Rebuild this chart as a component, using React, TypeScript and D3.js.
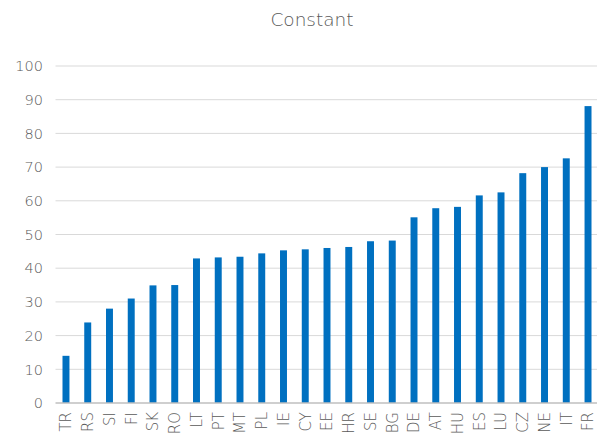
import React from "react";
import * as d3 from "d3";

const categories = ["TR","RS","SI","FI","SK","RO","LT","PT","MT","PL","IE","CY","EE","HR","SE","BG","DE","AT","HU","ES","LU","CZ","NE","IT","FR"];
const values = [14.0,23.9,28.0,31.0,34.9,35.0,42.9,43.2,43.4,44.4,45.3,45.6,46.0,46.3,48.0,48.2,55.1,57.8,58.2,61.6,62.5,68.2,70.0,72.6,88.1];
const yTicks = [0,10,20,30,40,50,60,70,80,90,100];
const title = "Constant";

const W = 597, H = 438;
const FONT = "'DejaVu Sans', sans-serif";

export default function App() {
  const x = d3.scaleBand<string>().domain(categories).range([55.1, 598.9]).paddingInner(0.68).paddingOuter(0.34);
  const y = d3.scaleLinear().domain([0, 100]).range([403, 66]);
  return (
    <svg width={W} height={H} style={{ position: "absolute", left: 0, top: 0, background: "#fff" }}>
      <text x={312} y={26} textAnchor="middle" fontFamily={FONT} fontWeight={200} fontSize={18.5} fill="#595959">{title}</text>
      {yTicks.map(t => (
        <g key={t}>
          {t !== 0 && <line x1={55.5} x2={597} y1={y(t)} y2={y(t)} stroke="#d9d9d9" strokeWidth={1} />}
          <text x={43} y={y(t)} dy="0.36em" textAnchor="end" fontFamily={FONT} fontWeight={200} fontSize={14.5} fill="#595959">{t}</text>
        </g>
      ))}
      {categories.map((c, i) => (
        <rect key={c} x={x(c)} y={y(values[i])} width={x.bandwidth()} height={y(0) - y(values[i])} fill="#0070C0" />
      ))}
      <line x1={55.5} x2={597} y1={y(0)} y2={y(0)} stroke="#bfbfbf" strokeWidth={1.5} />
      {categories.map(c => (
        <text key={c} transform={`translate(${x(c)! + x.bandwidth() / 2},${412}) rotate(-90)`} textAnchor="end" dy="0.36em"
          fontFamily={FONT} fontWeight={200} fontSize={15} fill="#595959">{c}</text>
      ))}
    </svg>
  );
}
